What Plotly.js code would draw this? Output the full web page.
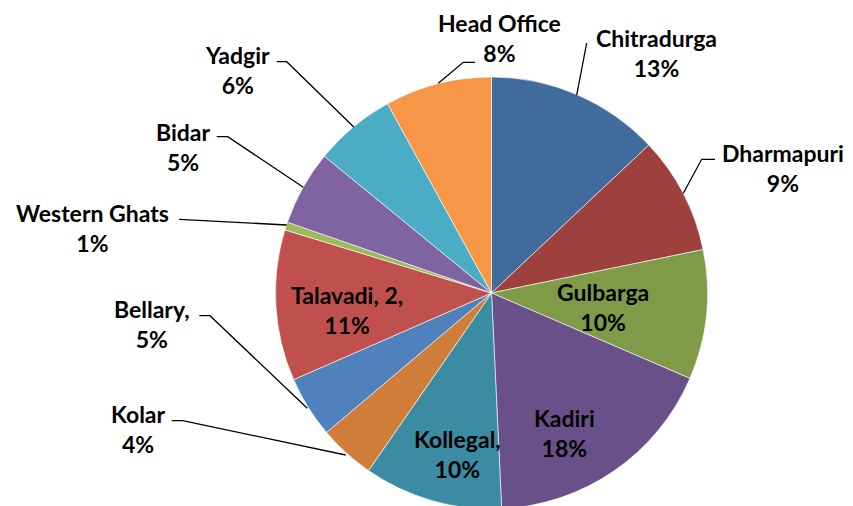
<!DOCTYPE html>
<html>
<head>
<meta charset="utf-8">
<script src="https://cdn.plot.ly/plotly-3.0.1.min.js"></script>
<style>
html,body{margin:0;padding:0;width:853px;height:506px;overflow:hidden;background:#fff;}
#chart{width:853px;height:512px;}
</style>
</head>
<body>
<div id="chart"></div>
<script>
// Data (share of total, %)
const categories = ["Chitradurga","Dharmapuri","Gulbarga","Kadiri","Kollegal","Kolar","Bellary","Talavadi, 2","Western Ghats","Bidar","Yadgir","Head Office"];
const shares = [13.0, 8.8, 9.7, 17.8, 10.4, 4.2, 4.6, 11.3, 0.6, 5.6, 6.1, 8.0];
const labelNames = ["Chitradurga","Dharmapuri","Gulbarga","Kadiri","Kollegal,","Kolar","Bellary,","Talavadi, 2,","Western Ghats","Bidar","Yadgir","Head Office"];
const labelPcts = ["13%","9%","10%","18%","10%","4%","5%","11%","1%","5%","6%","8%"];
const colors = ["#416B9C","#9E413E","#7F9B48","#6A5089","#3B8CA3","#D07D3A","#4F81BD","#C0504D","#9BBB59","#8064A2","#4BACC6","#F79646"];

const W = 853, H = 512;
const fx = p => p / W;
const fy = p => 1 - p / H;

// label block centres (pixels) and leader lines (pixel polylines)
const labelPos = [
  [656, 53], [783, 168], [603, 307], [564, 433], [457, 454], [138, 429],
  [152, 324], [347, 310], [92, 228], [183, 147], [238, 70], [499, 38]
];
const leaders = [
  [[586.7,43],[576.7,95]],
  [[715,159.3],[701.7,159.3],[683.3,193.3]],
  null, null, null,
  [[171.7,420.7],[182.7,420.7],[345.7,455]],
  [[199.3,315.7],[210,315.7],[307.3,408.3]],
  null,
  [[179,219.3],[286.7,225]],
  [[216.7,136.7],[227.7,136.7],[303.3,187.3]],
  [[276.7,61.7],[286.7,61.7],[354,127.3]],
  [[475,62.3],[463.3,62.3],[438.3,83.3]]
];

const annotations = labelNames.map((n, i) => ({
  xref: 'paper', yref: 'paper',
  x: fx(labelPos[i][0]), y: fy(labelPos[i][1]),
  xanchor: 'center', yanchor: 'middle',
  text: n + '<br>' + labelPcts[i],
  showarrow: false,
  font: {family: 'Lato, "Open Sans", sans-serif', size: 23, color: '#000', weight: 'bold'}
}));

const shapes = [];
leaders.forEach(l => {
  if (!l) return;
  let d = l.map((p, k) => (k ? 'L' : 'M') + fx(p[0]) + ',' + fy(p[1])).join(' ');
  shapes.push({type: 'path', xref: 'paper', yref: 'paper', path: d, line: {color: '#000', width: 1.3}});
});

const trace = {
  type: 'pie',
  labels: categories,
  values: shares,
  sort: false,
  direction: 'clockwise',
  rotation: 0,
  marker: {colors: colors, line: {color: '#ffffff', width: 0.6}},
  textinfo: 'none',
  textposition: 'none',
  hoverinfo: 'label+percent',
  domain: {x: [fx(275.5), fx(707.5)], y: [fy(509), fy(77)]}
};

const layout = {
  width: W, height: H,
  margin: {l: 0, r: 0, t: 0, b: 0},
  showlegend: false,
  paper_bgcolor: '#fff',
  annotations: annotations,
  shapes: shapes
};

Plotly.newPlot('chart', [trace], layout, {displayModeBar: false, staticPlot: true});
</script>
</body>
</html>
